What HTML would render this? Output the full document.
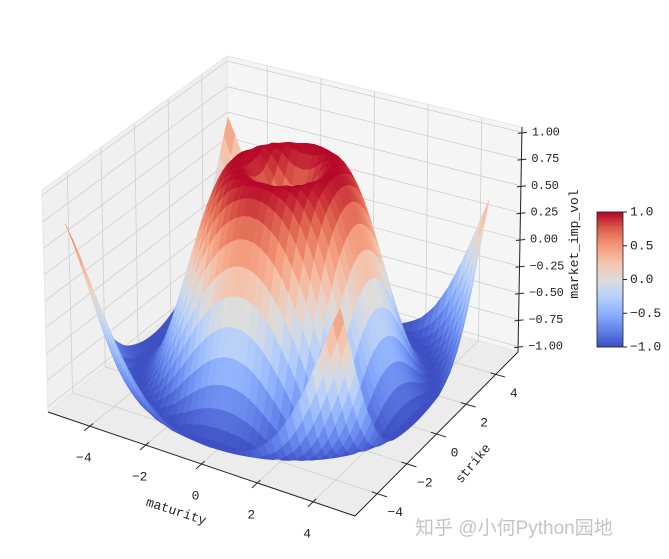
<!DOCTYPE html>
<html><head><meta charset="utf-8"><style>
html,body{margin:0;padding:0;background:#fff;}
svg{display:block;font-family:"Liberation Mono","Noto Sans CJK SC",monospace;}
</style></head><body>
<svg id="chart" width="669" height="559" viewBox="0 0 669 559">
<g id="panes"></g>
<g id="grid"></g>
<g id="axes"></g>
<g id="surface"></g>
<g id="cbar"></g>
<text x="175" y="515" font-size="13" fill="#222" text-anchor="middle" transform="rotate(18 175 515)">maturity</text>
<text x="476" y="466" font-size="13" fill="#222" text-anchor="middle" transform="rotate(-50 476 466)">strike</text>
<text x="578" y="244" font-size="13" fill="#222" text-anchor="middle" transform="rotate(-90 578 244)">market_imp_vol</text>
<text x="415" y="534" font-size="19" fill="#c4c4c4" font-family="'Liberation Sans','Noto Sans CJK SC',sans-serif">知乎 @小何Python园地</text>
</svg>
<script>
// ---- data ----
const xs = [-5,-4.75,-4.5,-4.25,-4,-3.75,-3.5,-3.25,-3,-2.75,-2.5,-2.25,-2,-1.75,-1.5,-1.25,-1,-0.75,-0.5,-0.25,0,0.25,0.5,0.75,1,1.25,1.5,1.75,2,2.25,2.5,2.75,3,3.25,3.5,3.75,4,4.25,4.5,4.75];
const ys = [-5,-4.75,-4.5,-4.25,-4,-3.75,-3.5,-3.25,-3,-2.75,-2.5,-2.25,-2,-1.75,-1.5,-1.25,-1,-0.75,-0.5,-0.25,0,0.25,0.5,0.75,1,1.25,1.5,1.75,2,2.25,2.5,2.75,3,3.25,3.5,3.75,4,4.25,4.5,4.75];
// z value vs radius (step 0.25)
const zProfile = [0,0.247,0.479,0.682,0.841,0.949,0.997,0.984,0.909,0.778,0.598,0.382,0.141,-0.108,-0.351,-0.572,-0.757,-0.895,-0.978,-0.999,-0.959,-0.859,-0.706,-0.508,-0.279,-0.033,0.215,0.451,0.657,0.823];
const xTicks = [-4,-2,0,2,4];
const yTicks = [-4,-2,0,2,4];
const zTicks = [-1,-0.75,-0.5,-0.25,0,0.25,0.5,0.75,1];
const zTickLabels = ["\u22121.00","\u22120.75","\u22120.50","\u22120.25","0.00","0.25","0.50","0.75","1.00"];
const cbTicks = [-1,-0.5,0,0.5,1];
const cbTickLabels = ["\u22121.0","\u22120.5","0.0","0.5","1.0"];

const xmin=-5.5,xmax=5.5,ymin=-5.5,ymax=5.5,zmin=-1.05,zmax=1.05;
const A0=[48,412],B0=[355,516],C0=[518,352],D0=[228,270];
const A1=[42,190],B1=[353,262],C1=[522,127],D1=[227,56];
const NS="http://www.w3.org/2000/svg";
function P(x,y,z){
  const u=(x-xmin)/(xmax-xmin),v=(y-ymin)/(ymax-ymin),w=(z-zmin)/(zmax-zmin);
  const bl=(a,b,c,d,i)=>a[i]*(1-u)*(1-v)+b[i]*u*(1-v)+c[i]*u*v+d[i]*(1-u)*v;
  const b0=[bl(A0,B0,C0,D0,0),bl(A0,B0,C0,D0,1)], b1=[bl(A1,B1,C1,D1,0),bl(A1,B1,C1,D1,1)];
  return [b0[0]*(1-w)+b1[0]*w, b0[1]*(1-w)+b1[1]*w];
}
function zAt(x,y){
  const r=Math.hypot(x,y)/0.25, i=Math.min(Math.floor(r),zProfile.length-2), f=r-i;
  return zProfile[i]*(1-f)+zProfile[i+1]*f;
}
const cmapStops=[[0,59,76,192],[0.125,98,130,234],[0.25,141,176,254],[0.375,184,208,249],[0.5,221,221,221],[0.625,245,196,173],[0.75,244,154,123],[0.875,222,96,77],[1,180,4,38]];
function cmap(t){
  t=Math.max(0,Math.min(1,t));
  for(let i=0;i<cmapStops.length-1;i++){const a=cmapStops[i],b=cmapStops[i+1];
    if(t<=b[0]){const f=(t-a[0])/(b[0]-a[0]);return `rgb(${Math.round(a[1]+(b[1]-a[1])*f)},${Math.round(a[2]+(b[2]-a[2])*f)},${Math.round(a[3]+(b[3]-a[3])*f)})`;}}
  return "rgb(180,4,38)";
}
function mk(tag,attrs,parent){const e=document.createElementNS(NS,tag);for(const k in attrs)e.setAttribute(k,attrs[k]);parent.appendChild(e);return e;}
const pts=a=>a.map(p=>p[0].toFixed(1)+","+p[1].toFixed(1)).join(" ");

// panes
const panes=document.getElementById('panes');
let e;
e=mk('polygon',{points:pts([P(xmin,ymin,zmin),P(xmin,ymax,zmin),P(xmin,ymax,zmax),P(xmin,ymin,zmax)]),fill:'#f0f0f0',stroke:'#e6e6e6'},panes);


e=mk('polygon',{points:pts([P(xmin,ymax,zmin),P(xmax,ymax,zmin),P(xmax,ymax,zmax),P(xmin,ymax,zmax)]),fill:'#f5f5f5',stroke:'#e6e6e6'},panes);


e=mk('polygon',{points:pts([P(xmin,ymin,zmin),P(xmax,ymin,zmin),P(xmax,ymax,zmin),P(xmin,ymax,zmin)]),fill:'#ececec',stroke:'#e6e6e6'},panes);



// grid
const grid=document.getElementById('grid');
function gl(p,q){const a=P(...p),b=P(...q);const l=mk('line',{x1:a[0],y1:a[1],x2:b[0],y2:b[1],stroke:'#cfcfcf','stroke-width':0.8},grid);}
xTicks.forEach(x=>{gl([x,ymin,zmin],[x,ymax,zmin]);gl([x,ymax,zmin],[x,ymax,zmax]);});
yTicks.forEach(y=>{gl([xmin,y,zmin],[xmax,y,zmin]);gl([xmin,y,zmin],[xmin,y,zmax]);});
zTicks.forEach(z=>{gl([xmin,ymin,z],[xmin,ymax,z]);gl([xmin,ymax,z],[xmax,ymax,z]);});

// axes
const axes=document.getElementById('axes');
function line(a,b,name){const l=mk('line',{x1:a[0],y1:a[1],x2:b[0],y2:b[1],stroke:'#222','stroke-width':1},axes);}
function text(x,y,s,anchor,name,fs){const t=mk('text',{x:x,y:y,'font-size':fs||13,fill:'#222','text-anchor':anchor,'dominant-baseline':'central'},axes);t.textContent=s;return t;}
line(P(xmin,ymin,zmin),P(xmax,ymin,zmin),'x-axis-line');
line(P(xmax,ymin,zmin),P(xmax,ymax,zmin),'y-axis-line');
line(P(xmax,ymax,zmin),P(xmax,ymax,zmax),'z-axis-line');
xTicks.forEach(x=>{const a=P(x,ymin,zmin),b=P(x,ymin-0.35,zmin),c=P(x,ymin+0.2,zmin);line(c,b,'x-tick');text(a[0]-6,a[1]+32,String(x).replace('-','\u2212'),'middle','x-tick-label');});
yTicks.forEach(y=>{const a=P(xmax,y,zmin),b=P(xmax+0.35,y,zmin),c=P(xmax-0.2,y,zmin);line(c,b,'y-tick');text(a[0]+18,a[1]+19,String(y).replace('-','\u2212'),'middle','y-tick-label');});
zTicks.forEach((z,i)=>{const a=P(xmax,ymax,z);line([a[0]-4,a[1]+1],[a[0]+5,a[1]],'z-tick');const t=text(a[0]+10,a[1],zTickLabels[i],'start','z-tick-label',12);t.setAttribute('letter-spacing','-0.3');});

// surface
const surf=document.getElementById('surface');
const quads=[];
for(let i=0;i<xs.length-1;i++)for(let j=0;j<ys.length-1;j++){
  const c=[[xs[i],ys[j]],[xs[i+1],ys[j]],[xs[i+1],ys[j+1]],[xs[i],ys[j+1]]].map(p=>[p[0],p[1],zAt(p[0],p[1])]);
  const zm=(c[0][2]+c[1][2]+c[2][2]+c[3][2])/4, xm=(xs[i]+xs[i+1])/2, ym=(ys[j]+ys[j+1])/2;
  const near=0.433*(xm/5)-0.75*(ym/5)+0.5*(zm*0.75);
  quads.push({c,zm,near});
}
quads.sort((a,b)=>a.near-b.near);
quads.forEach(q=>{const col=cmap((q.zm+1)/2);
  const p=mk('polygon',{points:pts(q.c.map(v=>P(v[0],v[1],v[2]))),fill:col,stroke:col,'stroke-width':0.5,'stroke-linejoin':'round'},surf);
  
  
});

// colorbar
const cb=document.getElementById('cbar');
const cbx=597,cbw=26,cbTop=212,cbBot=347;
const cbY=v=>cbBot-(v+1)/2*(cbBot-cbTop);
for(let k=0;k<64;k++){const v0=-1+2*k/64,v1=-1+2*(k+1)/64;
  const r=mk('rect',{x:cbx,y:cbY(v1)-0.3,width:cbw,height:cbY(v0)-cbY(v1)+0.6,fill:cmap((v0+v1+2)/4)},cb);
  
  }
e=mk('rect',{x:cbx,y:cbTop,width:cbw,height:cbBot-cbTop,fill:'none',stroke:'#222','stroke-width':0.8},cb);


cbTicks.forEach((v,i)=>{const y=cbY(v);
  const l=mk('line',{x1:cbx+cbw,y1:y,x2:cbx+cbw+4,y2:y,stroke:'#222'},cb);
  
  
  const t=mk('text',{x:cbx+cbw+7,y:y,'font-size':13,fill:'#222','dominant-baseline':'central'},cb);
  t.textContent=cbTickLabels[i];
  
  });
</script>
</body></html>
